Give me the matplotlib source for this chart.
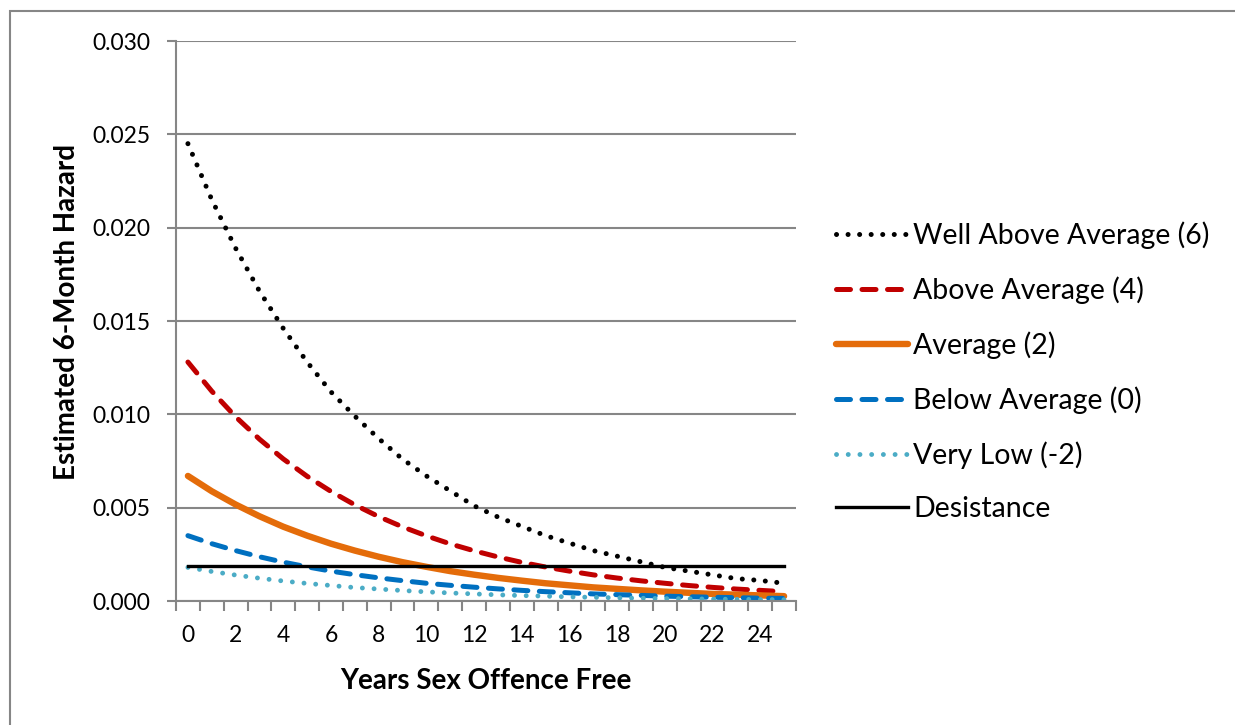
import numpy as np
import matplotlib
matplotlib.use('Agg')
import matplotlib.pyplot as plt
from matplotlib.patches import Rectangle

plt.rcParams['font.family'] = ['Lato', 'DejaVu Sans']

years = list(range(26))

well_above = [0.0245, 0.0215, 0.0189, 0.0166, 0.0146, 0.0128, 0.0112, 0.0099,
              0.0087, 0.0076, 0.0067, 0.0059, 0.0051, 0.0045, 0.0040, 0.0035,
              0.0031, 0.0027, 0.0024, 0.0021, 0.0018, 0.0016, 0.0014, 0.0012,
              0.0011, 0.00095]
above = [0.0128, 0.01124, 0.00987, 0.00867, 0.00761, 0.00668, 0.00587, 0.00515,
         0.00452, 0.00397, 0.00349, 0.00306, 0.00269, 0.00236, 0.00207, 0.00182,
         0.00160, 0.00140, 0.00123, 0.00108, 0.00095, 0.00083, 0.00073, 0.00064,
         0.00057, 0.00050]
average = [0.0067, 0.00588, 0.00517, 0.00454, 0.00398, 0.00350, 0.00307, 0.00270,
           0.00237, 0.00208, 0.00183, 0.00160, 0.00141, 0.00124, 0.00109, 0.00095,
           0.00084, 0.00073, 0.00065, 0.00057, 0.00050, 0.00044, 0.00038, 0.00034,
           0.00030, 0.00026]
below = [0.0035, 0.00307, 0.00270, 0.00237, 0.00208, 0.00183, 0.00160, 0.00141,
         0.00124, 0.00109, 0.00095, 0.00084, 0.00074, 0.00065, 0.00057, 0.00050,
         0.00044, 0.00038, 0.00034, 0.00030, 0.00026, 0.00023, 0.00020, 0.00018,
         0.00015, 0.00014]
very_low = [0.0018, 0.00158, 0.00139, 0.00122, 0.00107, 0.00094, 0.00083, 0.00072,
            0.00064, 0.00056, 0.00049, 0.00043, 0.00038, 0.00033, 0.00029, 0.00026,
            0.00022, 0.00020, 0.00017, 0.00015, 0.00013, 0.00012, 0.00010, 0.00009,
            0.00008, 0.00007]
desistance = [0.0019] * 26

labels = ['Well Above Average (6)', 'Above Average (4)', 'Average (2)',
          'Below Average (0)', 'Very Low (-2)', 'Desistance']
y_ticks = [0.0, 0.005, 0.010, 0.015, 0.020, 0.025, 0.030]
x_labels = list(range(0, 25, 2))

fig = plt.figure(figsize=(12.35, 7.25), dpi=100)
ax = fig.add_axes([176 / 1235, 1 - 601 / 725, 620 / 1235, 560 / 725])

grid_c = '#868686'
ax.plot(years, well_above, color='black', lw=3.6,
        linestyle=(0, (0.01, 2.3)), dash_capstyle='round', label=labels[0])
ax.plot(years, above, color='#C00000', lw=3.6,
        linestyle=(0, (2.8, 2.3)), dash_capstyle='round', label=labels[1])
ax.plot(years, average, color='#E46C0A', lw=4.6, solid_capstyle='round',
        label=labels[2])
ax.plot(years, below, color='#0070C0', lw=3.6,
        linestyle=(0, (2.8, 2.3)), dash_capstyle='round', label=labels[3])
ax.plot(years, very_low, color='#4BACC6', lw=3.5,
        linestyle=(0, (0.01, 2.4)), dash_capstyle='round', label=labels[4])
ax.plot(years, desistance, color='black', lw=2.4, label=labels[5])

ax.set_xlim(-0.5, 25.5)
ax.set_ylim(0, 0.030)
ax.set_yticks(y_ticks)
ax.set_yticklabels(['%.3f' % v for v in y_ticks])
ax.set_xticks(x_labels)
ax.set_xticks(np.arange(-0.5, 26, 1.0), minor=True)
ax.tick_params(axis='x', which='major', length=0, pad=17, labelsize=16.5)
ax.tick_params(axis='x', which='minor', length=7, width=1.5, color=grid_c)
ax.tick_params(axis='y', length=6.5, width=1.5, color=grid_c, labelsize=16.5, pad=12)
ax.yaxis.grid(True, color=grid_c, lw=1.5)
ax.set_axisbelow(True)
for side in ['top', 'right']:
    ax.spines[side].set_visible(False)
for side in ['left', 'bottom']:
    ax.spines[side].set_color(grid_c)
    ax.spines[side].set_linewidth(1.5)

ax.set_xlabel('Years Sex Offence Free', fontsize=20, fontweight='bold', labelpad=16)
ax.set_ylabel('Estimated 6-Month Hazard', fontsize=20, fontweight='bold')
ax.yaxis.set_label_coords(-0.155, 0.516)

fig.legend(loc='upper left', bbox_to_anchor=(825 / 1235, 1 - 210 / 725),
           frameon=False, fontsize=20.5, handlelength=2.5, handletextpad=0.2,
           labelspacing=0.96, borderaxespad=0)

fig.patches.append(Rectangle((9.5 / 1235, -0.1), 1.5, 1.1 - 11 / 725,
                             transform=fig.transFigure, fill=False,
                             edgecolor=grid_c, lw=1.5))

fig.savefig('out.png', dpi=100)
